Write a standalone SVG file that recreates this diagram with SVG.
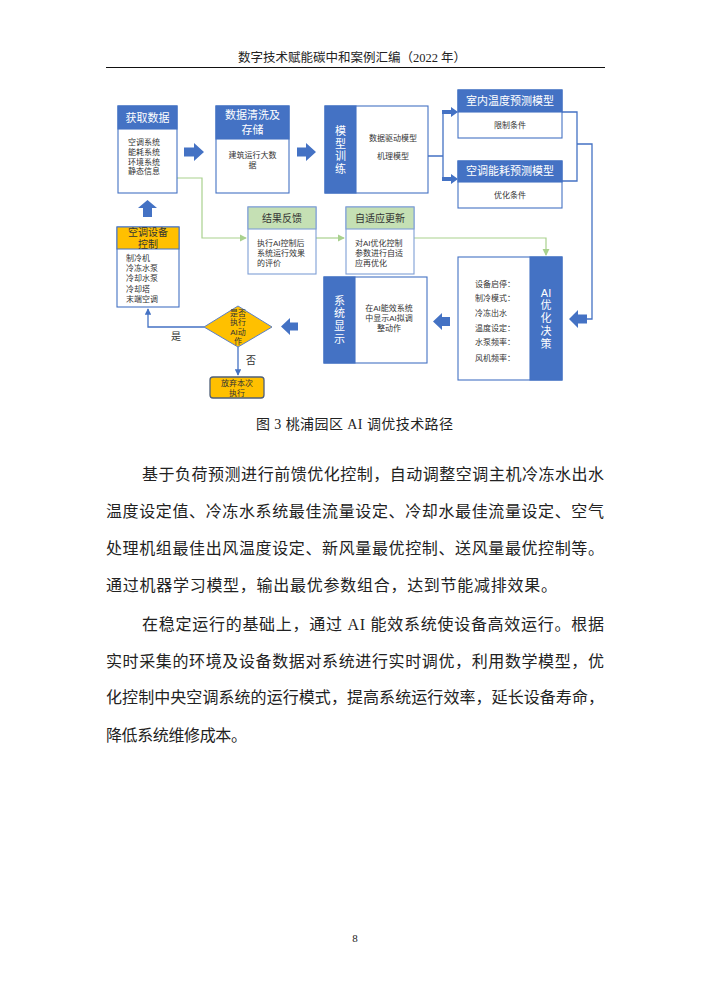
<svg xmlns="http://www.w3.org/2000/svg" width="710" height="1004" viewBox="0 0 710 1004">
<style>
.pg{font-family:"Liberation Serif","Noto Sans CJK SC",serif;fill:#222}
.d{font-family:"Liberation Sans","Noto Sans CJK SC",sans-serif;fill:#333}
.h{font-size:11px;fill:#fff;text-anchor:middle}
.hg{font-size:10px;fill:#333;text-anchor:middle}
.s{font-size:8px}
.c{text-anchor:middle}
.box{fill:#fff;stroke:#4472C4;stroke-width:1.1}
.boxg{fill:#fff;stroke:#7F9FD6;stroke-width:1.1}
.blue{fill:#4472C4;stroke:#4472C4;stroke-width:1.1}
.green{fill:#C5E0B4;stroke:#7F9FD6;stroke-width:1.1}
.org{fill:#FFC000;stroke:#4472C4;stroke-width:1}
.bar{fill:#4472C4}
.lb{fill:none;stroke:#4472C4;stroke-width:1.3}
.lg{fill:none;stroke:#A9D18E;stroke-width:1.2}
</style>
<defs>
<marker id="mb" viewBox="0 0 8 8" refX="7" refY="4" markerWidth="5" markerHeight="5" orient="auto"><path d="M0,0 L8,4 L0,8 Z" fill="#4472C4"/></marker>
<marker id="mg" viewBox="0 0 8 8" refX="7" refY="4" markerWidth="6" markerHeight="6" orient="auto"><path d="M0,0 L8,4 L0,8 Z" fill="#A9D18E"/></marker>
</defs>
<rect width="710" height="1004" fill="#fff"/>
<text class="pg" x="352" y="61.5" font-size="12.5" text-anchor="middle">数字技术赋能碳中和案例汇编（2022 年）</text>
<line x1="106" y1="67.5" x2="605" y2="67.5" stroke="#111" stroke-width="1.2"/>

<g id="connectors">
<path class="bar" d="M184,147.5 H194 V143 L204,152 L194,161 V156.5 H184 Z"/>
<path class="bar" d="M297,147.5 H306 V143 L316,152 L306,161 V156.5 H297 Z"/>
<path class="bar" d="M143,217 V208 H138 L147.5,200 L157,208 H152 V217 Z"/>
<path class="bar" d="M298,322.5 H290 V318 L281,326.5 L290,335 V330.5 H298 Z"/>
<path class="bar" d="M450,317 H442 V313 L433,321.5 L442,330 V326 H450 Z"/>
<path class="bar" d="M587,314.5 H578 V310 L569,319 L578,328 V323.5 H587 Z"/>
<path class="lb" d="M428,156 H443 M443,112 V179"/>
<path class="bar" d="M442,110 H451 V107 L458,112 L451,117 V114 H442 Z"/>
<path class="bar" d="M442,177 H451 V174 L458,179 L451,184 V181 H442 Z"/>
<path class="lb" d="M562,112 H577 V181 H562 M577,144 H592 V319 H587"/>
<path class="lg" d="M177,178 H202 V238 H246" marker-end="url(#mg)"/>
<path class="lg" d="M316,238 H344" marker-end="url(#mg)"/>
<path class="lg" d="M414,238 H546 V255" marker-end="url(#mg)"/>
<path class="lb" d="M204,327 H148 V309" marker-end="url(#mb)"/>
<path class="lb" d="M238,347 V375" marker-end="url(#mb)"/>
<text class="d" x="176" y="340" font-size="10" text-anchor="middle">是</text>
<text class="d" x="251" y="364" font-size="10" text-anchor="middle">否</text>
</g>

<g id="n-huoqu">
<rect class="box" x="118" y="106" width="59" height="87"/>
<rect class="blue" x="118" y="106" width="59" height="23"/>
<text class="d h" x="147.5" y="121.5">获取数据</text>
<text class="d s" x="128" y="145">空调系统</text>
<text class="d s" x="128" y="155">能耗系统</text>
<text class="d s" x="128" y="164.5">环境系统</text>
<text class="d s" x="128" y="174">静态信息</text>
</g>

<g id="n-qingxi">
<rect class="box" x="216" y="106" width="73" height="87"/>
<rect class="blue" x="216" y="106" width="73" height="33"/>
<text class="d h" x="252.5" y="119">数据清洗及</text>
<text class="d h" x="252.5" y="134">存储</text>
<text class="d s c" x="252.5" y="158">建筑运行大数</text>
<text class="d s c" x="252.5" y="168">据</text>
</g>

<g id="n-xunlian">
<rect class="box" x="325" y="106" width="103" height="87"/>
<rect class="blue" x="325" y="106" width="31" height="87"/>
<text class="d h" x="340.5" y="135">模</text>
<text class="d h" x="340.5" y="147.5">型</text>
<text class="d h" x="340.5" y="160">训</text>
<text class="d h" x="340.5" y="172.5">练</text>
<text class="d s c" x="393" y="141">数据驱动模型</text>
<text class="d s c" x="393" y="159">机理模型</text>
</g>

<g id="n-shinei">
<rect class="box" x="458" y="90" width="104" height="48"/>
<rect class="blue" x="458" y="90" width="104" height="22"/>
<text class="d h" x="510" y="105">室内温度预测模型</text>
<text class="d s c" x="510" y="128">限制条件</text>
</g>

<g id="n-nenghao">
<rect class="box" x="458" y="161" width="104" height="47"/>
<rect class="blue" x="458" y="161" width="104" height="21"/>
<text class="d h" x="510" y="175">空调能耗预测模型</text>
<text class="d s c" x="510" y="198">优化条件</text>
</g>

<g id="n-fankui">
<rect class="boxg" x="248" y="207" width="68" height="67"/>
<rect class="green" x="248" y="207" width="68" height="22"/>
<text class="d hg" x="282" y="221.5">结果反馈</text>
<text class="d s" x="257" y="246">执行AI控制后</text>
<text class="d s" x="257" y="256">系统运行效果</text>
<text class="d s" x="257" y="265.5">的评价</text>
</g>

<g id="n-gengxin">
<rect class="boxg" x="346" y="207" width="68" height="67"/>
<rect class="green" x="346" y="207" width="68" height="22"/>
<text class="d hg" x="380" y="221.5">自适应更新</text>
<text class="d s" x="355" y="246">对AI优化控制</text>
<text class="d s" x="355" y="256">参数进行自适</text>
<text class="d s" x="355" y="265.5">应再优化</text>
</g>

<g id="n-kongzhi">
<rect class="box" x="117" y="227" width="62" height="80"/>
<rect class="org" x="117" y="227" width="62" height="22"/>
<text class="d hg" x="148" y="235.5">空调设备</text>
<text class="d hg" x="148" y="247.5">控制</text>
<text class="d s" x="126" y="261">制冷机</text>
<text class="d s" x="126" y="271">冷冻水泵</text>
<text class="d s" x="126" y="281">冷却水泵</text>
<text class="d s" x="126" y="291.5">冷却塔</text>
<text class="d s" x="126" y="302">末端空调</text>
</g>

<g id="n-xianshi">
<rect class="box" x="324" y="277" width="103" height="86"/>
<rect class="blue" x="324" y="277" width="31" height="86"/>
<text class="d h" x="339.5" y="305">系</text>
<text class="d h" x="339.5" y="317">统</text>
<text class="d h" x="339.5" y="330">显</text>
<text class="d h" x="339.5" y="343">示</text>
<text class="d s c" x="389" y="311">在AI能效系统</text>
<text class="d s c" x="389" y="321">中显示AI拟调</text>
<text class="d s c" x="389" y="331">整动作</text>
</g>

<g id="n-juece">
<rect class="box" x="458" y="257" width="104" height="123"/>
<rect class="blue" x="530" y="257" width="32" height="123"/>
<text class="d h" x="546" y="297">AI</text>
<text class="d h" x="546" y="309">优</text>
<text class="d h" x="546" y="322">化</text>
<text class="d h" x="546" y="335">决</text>
<text class="d h" x="546" y="348">策</text>
<text class="d s" x="475" y="287">设备启停：</text>
<text class="d s" x="475" y="301">制冷模式：</text>
<text class="d s" x="475" y="316">冷冻出水</text>
<text class="d s" x="475" y="331">温度设定：</text>
<text class="d s" x="475" y="345">水泵频率：</text>
<text class="d s" x="475" y="361">风机频率：</text>
</g>

<g id="n-panduan">
<path d="M204,327 L238,306 L272,327 L238,347 Z" fill="#FFC000" stroke="#5B7FC7" stroke-width="1"/>
<text class="d s c" x="238" y="316" font-size="7.5">是否</text>
<text class="d s c" x="238" y="325" font-size="7.5">执行</text>
<text class="d s c" x="238" y="334.5" font-size="7.5">AI动</text>
<text class="d s c" x="238" y="344" font-size="7.5">作</text>
</g>

<g id="n-fangqi">
<rect x="210" y="377" width="54" height="21" rx="3" fill="#FFC000" stroke="#4F5F78" stroke-width="1.3"/>
<text class="d s c" x="237" y="386">放弃本次</text>
<text class="d s c" x="237" y="395.5">执行</text>
</g>

<text class="pg" x="256" y="428.5" font-size="14" textLength="197" lengthAdjust="spacing">图 3 桃浦园区 AI 调优技术路径</text>

<g class="pg" font-size="16">
<text x="142" y="480" textLength="462" lengthAdjust="spacing">基于负荷预测进行前馈优化控制，自动调整空调主机冷冻水出水</text>
<text x="106" y="517" textLength="498" lengthAdjust="spacing">温度设定值、冷冻水系统最佳流量设定、冷却水最佳流量设定、空气</text>
<text x="106" y="554" textLength="498" lengthAdjust="spacing">处理机组最佳出风温度设定、新风量最优控制、送风量最优控制等。</text>
<text x="106" y="591" textLength="451" lengthAdjust="spacing">通过机器学习模型，输出最优参数组合，达到节能减排效果。</text>
<text x="142" y="630" textLength="462" lengthAdjust="spacing">在稳定运行的基础上，通过 AI 能效系统使设备高效运行。根据</text>
<text x="106" y="667" textLength="498" lengthAdjust="spacing">实时采集的环境及设备数据对系统进行实时调优，利用数学模型，优</text>
<text x="106" y="703" textLength="498" lengthAdjust="spacing">化控制中央空调系统的运行模式，提高系统运行效率，延长设备寿命，</text>
<text x="106" y="741" textLength="141" lengthAdjust="spacing">降低系统维修成本。</text>
</g>
<text class="pg" x="355" y="942" font-size="11" text-anchor="middle">8</text>
</svg>
